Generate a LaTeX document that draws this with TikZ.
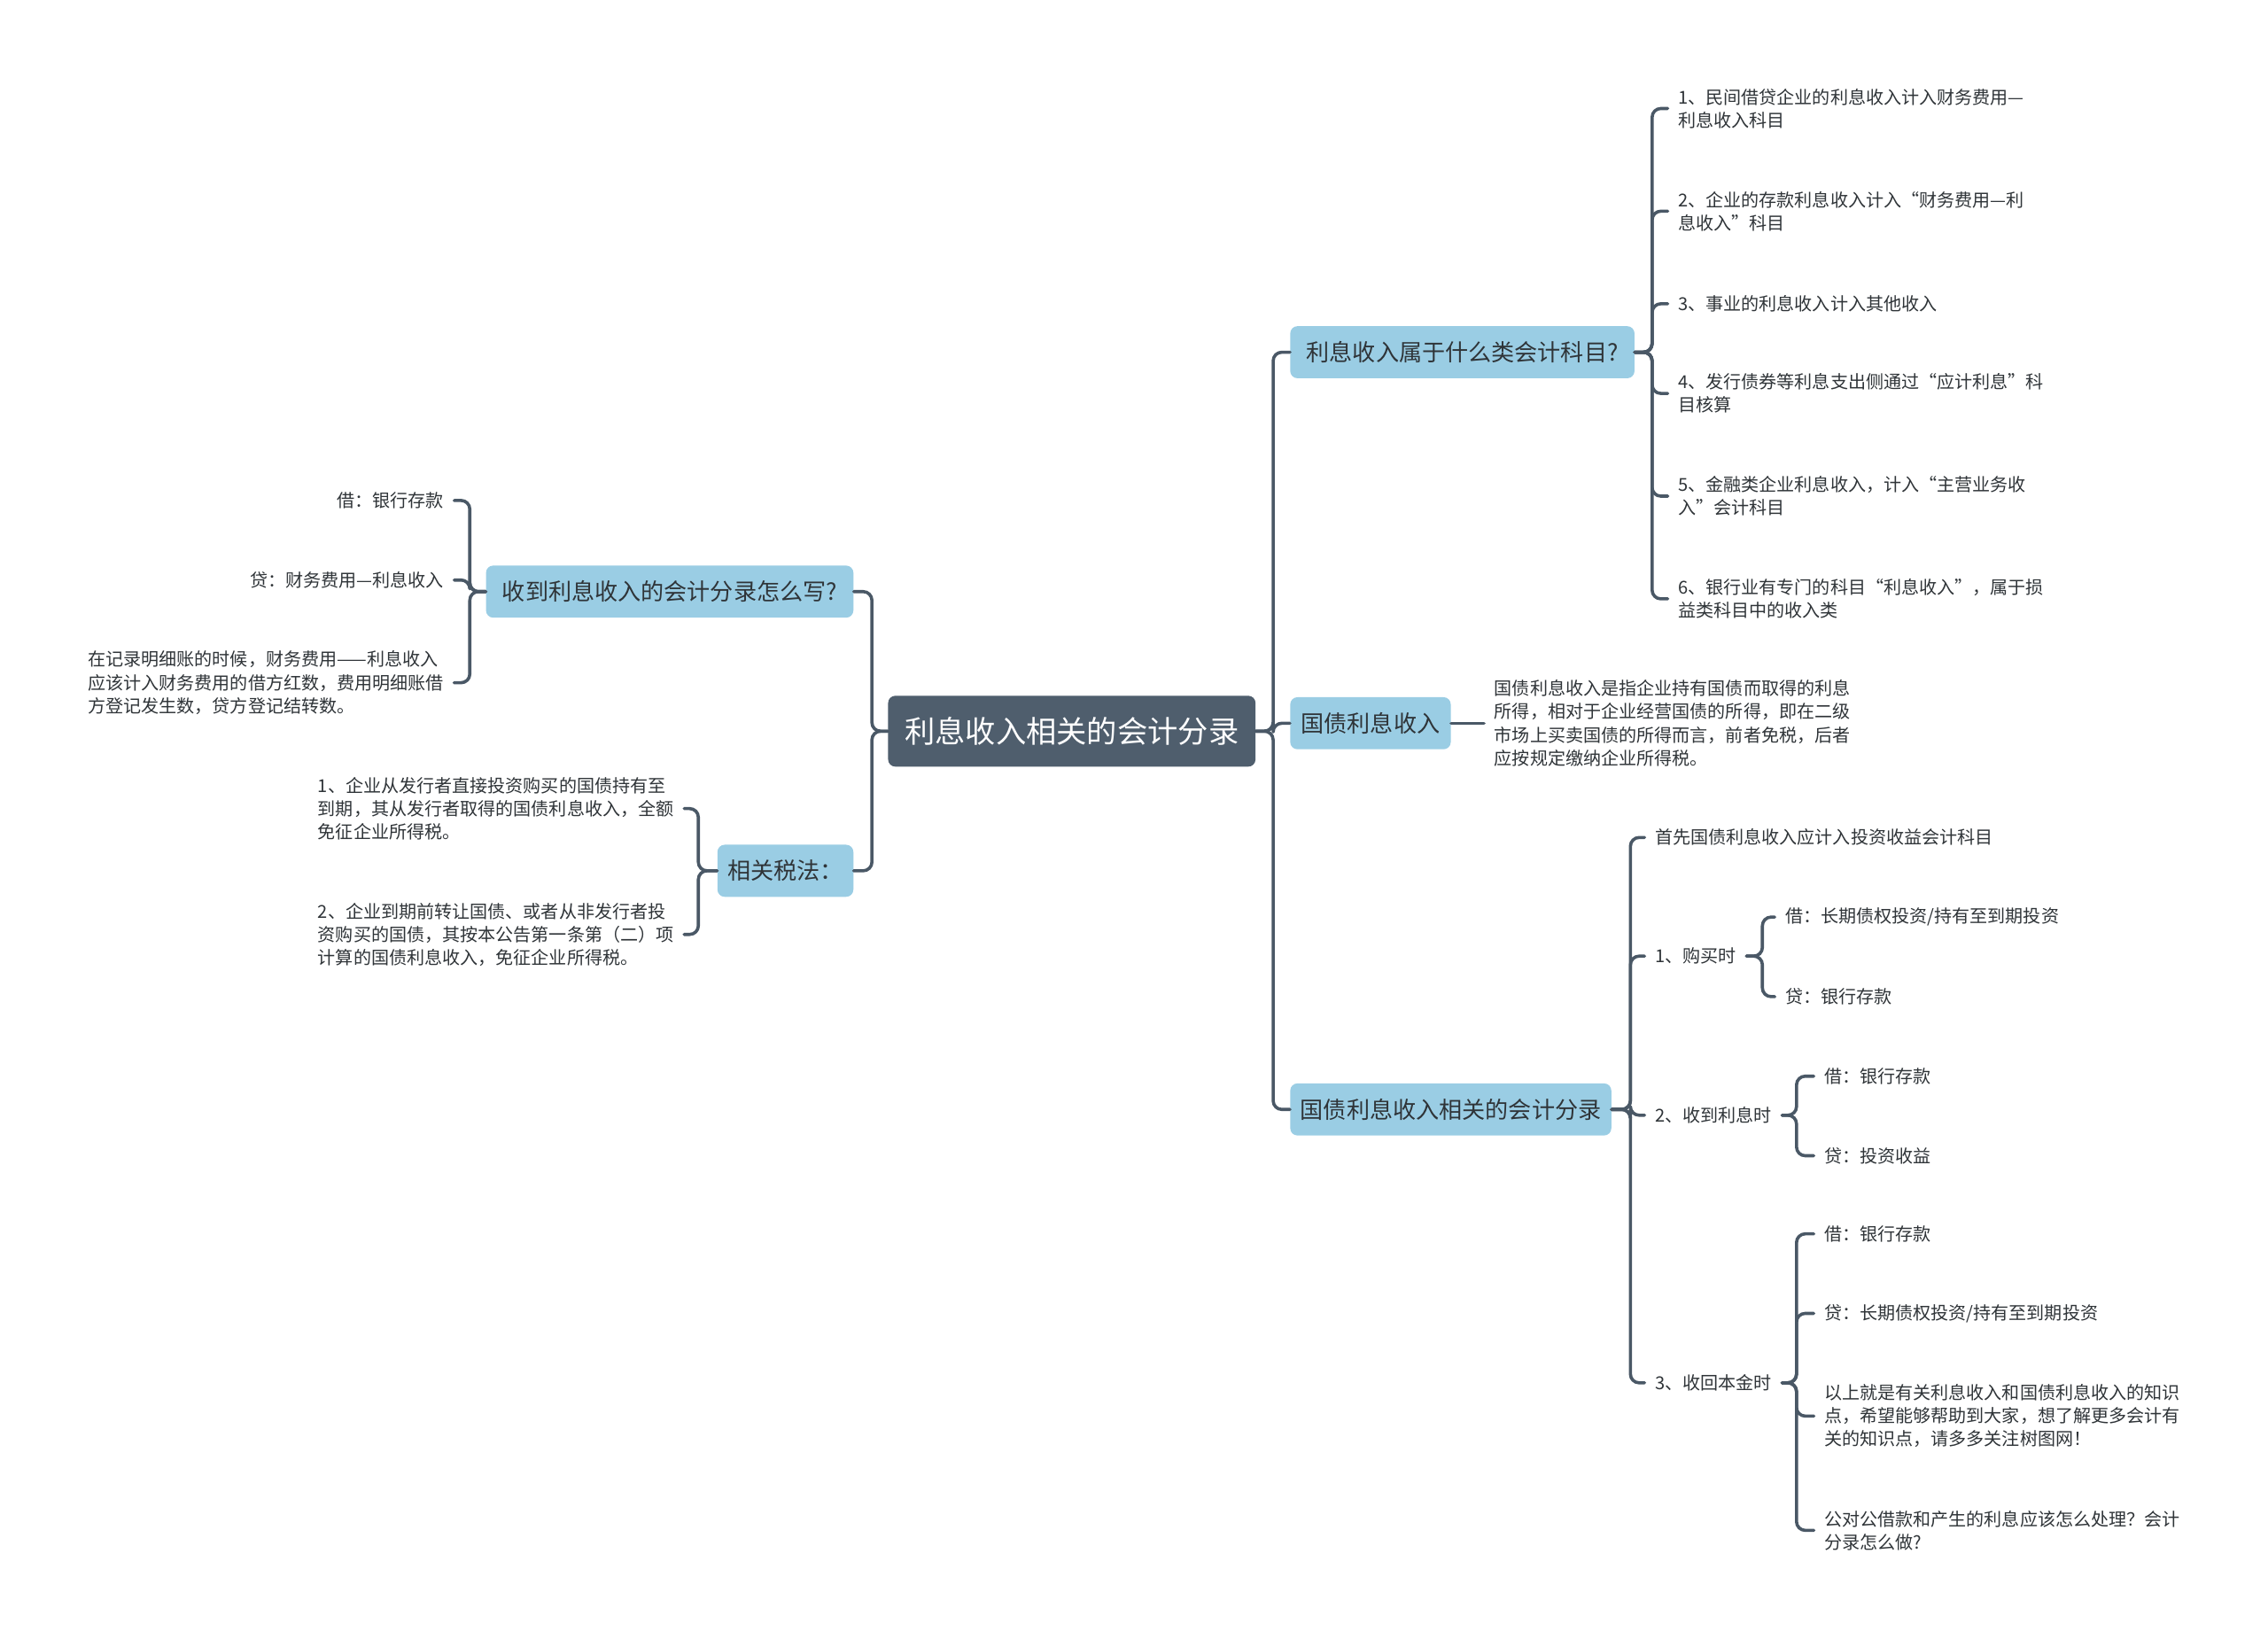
\documentclass[tikz,border=0pt]{standalone}
\usepackage{fontspec}
\setmainfont{Noto Sans CJK SC}
\usepackage{xcolor}
\usepackage{tikz}
\usetikzlibrary{positioning}
\definecolor{mmSlate}{HTML}{4F5E6D}
\definecolor{mmSky}{HTML}{9ACDE4}
\definecolor{mmInk}{HTML}{2F3438}
\definecolor{mmLine}{HTML}{4A5866}
\tikzset{
  mm diagram/.style={x=1pt, y=-1pt, text=mmInk,
    line cap=round, line join=round},
  mm root/.style={fill=mmSlate, text=white, rounded corners=5pt,
    minimum height=49pt, inner sep=0pt, font=\fontsize{21}{26}\selectfont},
  mm topic/.style={fill=mmSky, rounded corners=5pt,
    minimum height=36pt, inner sep=0pt, font=\fontsize{16}{20}\selectfont},
  mm leaf/.style={align=left, inner xsep=7pt, inner ysep=1pt,
    font=\fontsize{12.3}{16}\selectfont},
  mm leaf r/.style={mm leaf, anchor=west},
  mm leaf l/.style={mm leaf, anchor=east},
  mm link/.style={draw=mmLine, line width=2.2pt, rounded corners=6pt}
}
\begin{document}
\begin{tikzpicture}[mm diagram]
\useasboundingbox (0,0) rectangle (1568,1133);
\node[mm root,minimum width=254pt] (root) at (741,505.5) {利息收入相关的会计分录};
% left side
\node[mm topic,minimum width=254pt] (l1) at (463,409) {收到利息收入的会计分录怎么写?};
\node[mm topic,minimum width=94pt] (l2) at (543,602) {相关税法：};
\node[mm leaf l] (l1a) at (314,346) {借：银行存款};
\node[mm leaf l] (l1b) at (314,401) {贷：财务费用—利息收入};
\node[mm leaf l] (l1c) at (314,472) {在记录明细账的时候，财务费用——利息收入\\应该计入财务费用的借方红数，费用明细账借\\方登记发生数，贷方登记结转数。};
\node[mm leaf l] (l2a) at (473,559) {1、企业从发行者直接投资购买的国债持有至\\到期，其从发行者取得的国债利息收入，全额\\免征企业所得税。};
\node[mm leaf l] (l2b) at (473,646) {2、企业到期前转让国债、或者从非发行者投\\资购买的国债，其按本公告第一条第（二）项\\计算的国债利息收入，免征企业所得税。};
% right side
\node[mm topic,minimum width=238pt] (r1) at (1011,243.5) {利息收入属于什么类会计科目?};
\node[mm topic,minimum width=111pt] (r2) at (947.5,500) {国债利息收入};
\node[mm topic,minimum width=222pt] (r3) at (1003,767) {国债利息收入相关的会计分录};
\node[mm leaf r] (r1c1) at (1153,75) {1、民间借贷企业的利息收入计入财务费用—\\利息收入科目};
\node[mm leaf r] (r1c2) at (1153,146) {2、企业的存款利息收入计入“财务费用—利\\息收入”科目};
\node[mm leaf r] (r1c3) at (1153,210) {3、事业的利息收入计入其他收入};
\node[mm leaf r] (r1c4) at (1153,272) {4、发行债券等利息支出侧通过“应计利息”科\\目核算};
\node[mm leaf r] (r1c5) at (1153,343) {5、金融类企业利息收入，计入“主营业务收\\入”会计科目};
\node[mm leaf r] (r1c6) at (1153,414) {6、银行业有专门的科目“利息收入”，属于损\\益类科目中的收入类};
\node[mm leaf r] (r2a) at (1026,500) {国债利息收入是指企业持有国债而取得的利息\\所得，相对于企业经营国债的所得，即在二级\\市场上买卖国债的所得而言，前者免税，后者\\应按规定缴纳企业所得税。};
\node[mm leaf r] (r3a) at (1137,579) {首先国债利息收入应计入投资收益会计科目};
\node[mm leaf r] (r3b) at (1137,661) {1、购买时};
\node[mm leaf r] (r3c) at (1137,771) {2、收到利息时};
\node[mm leaf r] (r3d) at (1137,956) {3、收回本金时};
\node[mm leaf r] (r3b1) at (1227,634) {借：长期债权投资/持有至到期投资};
\node[mm leaf r] (r3b2) at (1227,689) {贷：银行存款};
\node[mm leaf r] (r3c1) at (1254,744) {借：银行存款};
\node[mm leaf r] (r3c2) at (1254,799) {贷：投资收益};
\node[mm leaf r] (r3d1) at (1254,853) {借：银行存款};
\node[mm leaf r] (r3d2) at (1254,908) {贷：长期债权投资/持有至到期投资};
\node[mm leaf r] (r3d3) at (1254,979) {以上就是有关利息收入和国债利息收入的知识\\点，希望能够帮助到大家，想了解更多会计有\\关的知识点，请多多关注树图网！};
\node[mm leaf r] (r3d4) at (1254,1058) {公对公借款和产生的利息应该怎么处理？会计\\分录怎么做?};
% connectors
\foreach \t in {l1,l2} \draw[mm link] (root.west) -- ++(-11,0) |- (\t.east);
\foreach \t in {r1,r2,r3} \draw[mm link] (root.east) -- ++(12,0) |- (\t.west);
\foreach \t in {l1a,l1b,l1c} \draw[mm link] (l1.west) -- ++(-11,0) |- (\t.east);
\foreach \t in {l2a,l2b} \draw[mm link] (l2.west) -- ++(-13,0) |- (\t.east);
\foreach \i in {1,...,6} \draw[mm link] (r1.east) -- ++(12,0) |- (r1c\i.west);
\draw[mm link] (r2.east) -- (r2a.west);
\foreach \t in {r3a,r3b,r3c,r3d} \draw[mm link] (r3.east) -- ++(13,0) |- (\t.west);
\foreach \t in {r3b1,r3b2} \draw[mm link] (r3b.east) -- ++(11,0) |- (\t.west);
\foreach \t in {r3c1,r3c2} \draw[mm link] (r3c.east) -- ++(10,0) |- (\t.west);
\foreach \t in {r3d1,r3d2,r3d3,r3d4} \draw[mm link] (r3d.east) -- ++(10,0) |- (\t.west);
\end{tikzpicture}
\end{document}
